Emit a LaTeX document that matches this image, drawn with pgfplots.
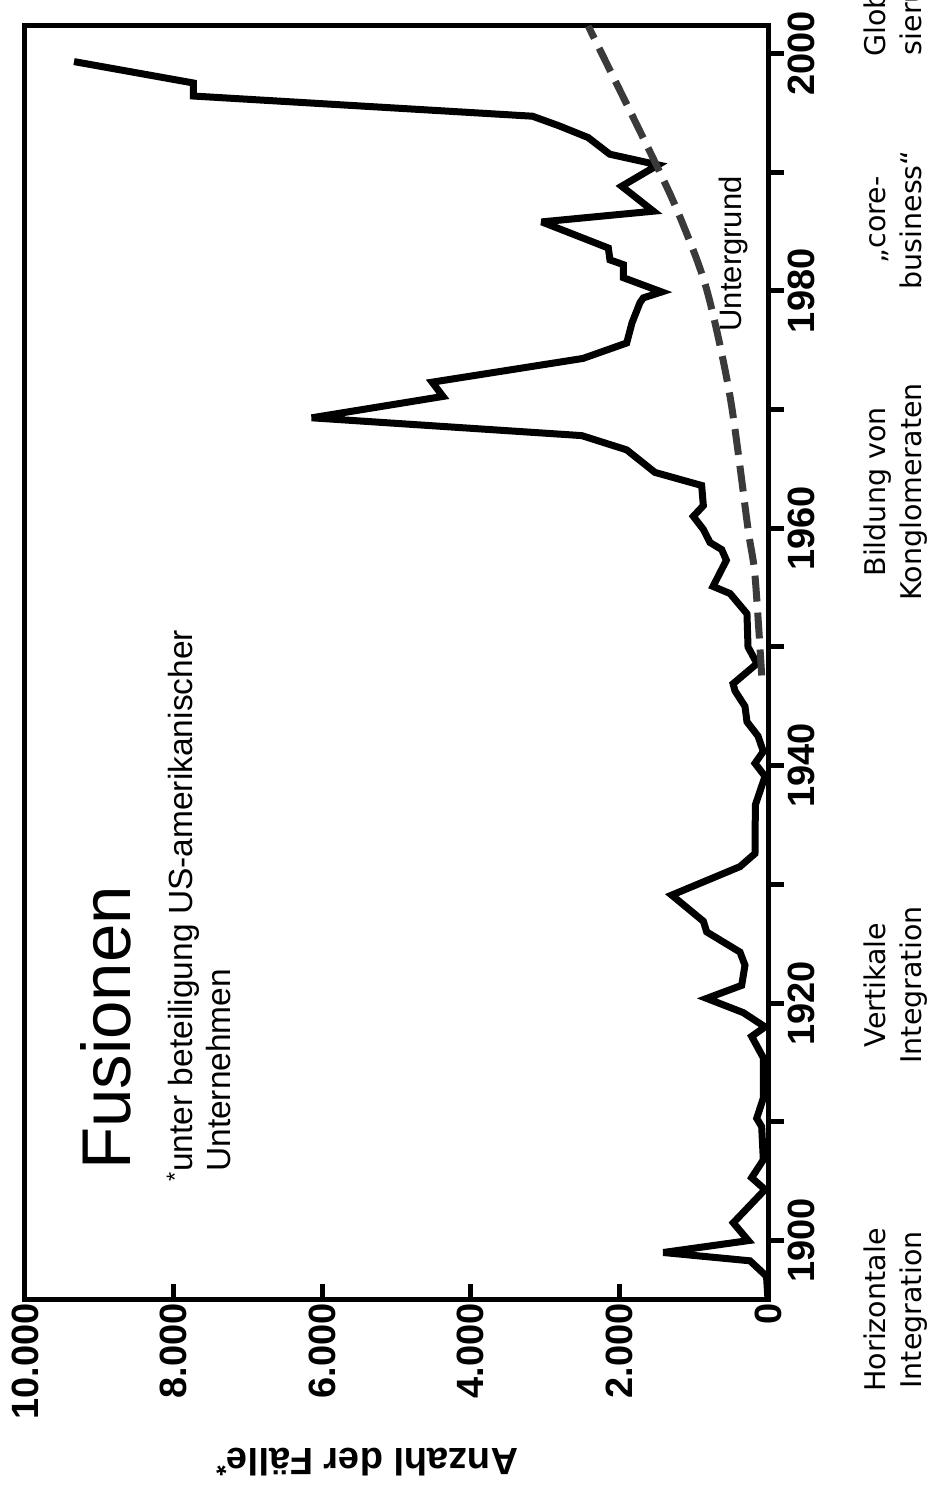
\documentclass[border=0pt]{standalone}
\usepackage{fontspec}
\setmainfont{Liberation Sans}
\newfontfamily\dejavu{DejaVu Sans}
\usepackage{pgfplots}
\usepackage{pgfplotstable}
\pgfplotsset{compat=1.18}
\definecolor{dashgray}{HTML}{3A3A3A}

\pgfplotstableread{
year count
1895.0 0
1897.0 20
1898.3 242
1899.0 1409
1900.0 265
1901.5 467
1904.3 40
1905.3 220
1906.8 63
1909.6 85
1910.3 152
1912.0 63
1915.4 63
1917.2 220
1918.0 40
1919.2 332
1920.4 825
1921.5 354
1923.2 310
1924.3 377
1926.0 825
1926.9 870
1929.1 1296
1931.5 377
1932.6 175
1936.7 170
1939.1 40
1940.2 175
1941.2 63
1942.5 135
1943.7 283
1945.0 310
1946.3 444
1946.9 470
1948.6 148
1950.0 269
1952.8 283
1954.5 511
1955.1 740
1957.3 560
1958.2 623
1958.8 781
1959.9 870
1961.0 1005
1961.9 870
1963.6 893
1964.7 1521
1966.6 1902
1967.8 2507
1969.3 6141
1971.1 4374
1972.3 4520
1974.3 2490
1975.6 1902
1977.3 1830
1979.0 1723
1979.4 1678
1979.9 1431
1981.1 1947
1982.2 1947
1982.6 2127
1983.6 2149
1985.8 3046
1986.7 1543
1988.8 1969
1990.6 1480
1991.5 2130
1992.9 2420
1993.9 2816
1994.7 3170
1996.4 7735
1997.5 7735
1999.3 9340
}\fusionen

\pgfplotstableread{
year count
1947.6 85
1956.0 175
1960.0 270
1971.1 511
1980.1 825
1986.2 1184
1991.0 1534
2002.3 2420
}\untergrund

\begin{document}
\begin{tikzpicture}
\begin{axis}[
  at={(25pt,195pt)}, anchor=south west,
  scale only axis, width=743pt, height=1274pt,
  xmin=0, xmax=10000, x dir=reverse,
  ymin=1895, ymax=2002.3,
  scaled x ticks=false, scaled y ticks=false,
  axis line style={line width=5pt},
  xtick={0,2000,4000,6000,8000,10000},
  xticklabels={0,2.000,4.000,6.000,8.000,10.000},
  ytick={1900,1920,1940,1960,1980,2000},
  minor ytick={1910,1930,1950,1970,1990},
  yticklabels={1900,1920,1940,1960,1980,2000},
  xtick pos=left, ytick pos=right, yticklabel pos=right,
  xtick align=inside, ytick align=outside,
  major tick length=16pt, minor tick length=16pt,
  tick style={line width=5pt, black},
  xticklabel style={rotate=90, anchor=east, font=\fontsize{38}{40}\selectfont\bfseries},
  yticklabel style={rotate=90, anchor=north, font=\fontsize{38}{40}\selectfont\bfseries},
]
\addplot[black, line width=7pt, line join=miter, miter limit=4] table[x=count, y=year]{\fusionen};
\addplot[dashgray, line width=7pt, dash pattern=on 26pt off 11pt, smooth] table[x=count, y=year]{\untergrund};
\end{axis}

\node[rotate=90, inner sep=0pt, anchor=base west, font=\fontsize{69}{72}\selectfont] at (130pt,325pt) {Fusionen};
\node[rotate=90, inner sep=0pt, anchor=base west, font=\fontsize{33.5}{38}\selectfont] at (192pt,323pt) {\llap{\textsuperscript{*}}unter beteiligung US-amerikanischer};
\node[rotate=90, inner sep=0pt, anchor=base west, font=\fontsize{33.5}{38}\selectfont] at (230pt,323pt) {Unternehmen};
\node[rotate=90, anchor=base west, font=\fontsize{31}{34}\selectfont] at (741pt,1160pt) {Untergrund};
\node[rotate=180, font=\fontsize{38}{40}\selectfont\bfseries] at (367pt,33pt) {Anzahl der Fälle\textsuperscript{*}};

\node[rotate=90, align=center, font=\dejavu\fontsize{28.5}{36}\selectfont] at (896pt,185pt) {Horizontale\\Integration};
\node[rotate=90, align=center, font=\dejavu\fontsize{28.5}{36}\selectfont] at (896pt,510pt) {Vertikale\\Integration};
\node[rotate=90, align=center, font=\dejavu\fontsize{28.5}{36}\selectfont] at (896pt,1003pt) {Bildung von\\Konglomeraten};
\node[rotate=90, align=center, font=\dejavu\fontsize{28.5}{36}\selectfont] at (896pt,1275pt) {„core-\\business“};
\node[rotate=90, align=center, font=\dejavu\fontsize{28.5}{36}\selectfont] at (896pt,1493pt) {Globali-\\sierung};

\pgfresetboundingbox
\path[use as bounding box] (0pt,0pt) rectangle (932pt,1495pt);
\end{tikzpicture}
\end{document}
